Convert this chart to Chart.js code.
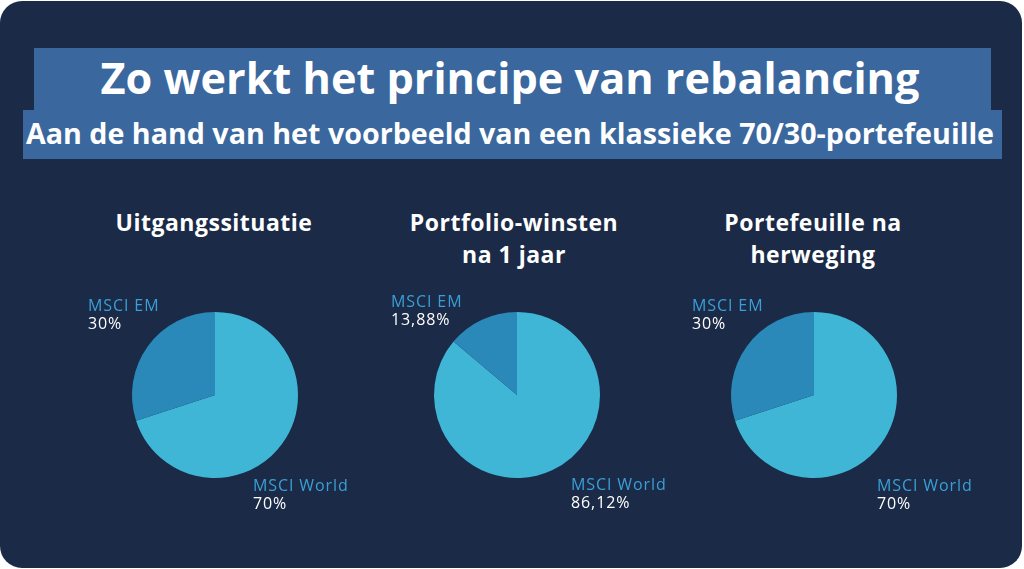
<!DOCTYPE html>
<html>
<head>
<meta charset="utf-8">
<script src="https://cdn.jsdelivr.net/npm/chart.js@4.4.1/dist/chart.umd.min.js"></script>
<style>
  html, body { margin: 0; padding: 0; background: #ffffff; }
  body { width: 1024px; height: 569px; position: relative; overflow: hidden; font-family: "Open Sans", sans-serif; }
  .card { position: absolute; left: 0; top: 1px; width: 1022px; height: 567px; background: #1b2a47; border-radius: 22px; }
  .band { position: absolute; background: #3a679d; }
  .txt { position: absolute; color: #ffffff; font-weight: 700; white-space: nowrap; text-align: center; }
  .head { position: absolute; color: #ffffff; font-weight: 700; font-size: 23px; letter-spacing: 0.5px; line-height: 32px; text-align: center; width: 300px; }
  canvas { position: absolute; }
</style>
</head>
<body>
<div class="card"></div>
<div class="band" style="left:34px;top:48px;width:957px;height:62px"></div>
<div class="band" style="left:23px;top:110px;width:979px;height:49px"></div>
<div class="txt" id="title" style="left:0;width:1020px;top:55px;font-size:37px;line-height:46px">Zo werkt het principe van rebalancing</div>
<div class="txt" id="subtitle" style="left:0;width:1020px;top:117px;font-size:24px;line-height:32px">Aan de hand van het voorbeeld van een klassieke 70/30-portefeuille</div>

<div class="head" style="left:64px;top:206px">Uitgangssituatie</div>
<div class="head" style="left:364px;top:206px">Portfolio-winsten<br>na 1 jaar</div>
<div class="head" style="left:663px;top:206px">Portefeuille na<br>herweging</div>

<canvas id="c0" width="360" height="300"></canvas>
<canvas id="c1" width="360" height="300"></canvas>
<canvas id="c2" width="360" height="300"></canvas>

<script>
// data
const categories = ['MSCI World', 'MSCI EM'];
const start = [70, 30];
const afterYear = [86.12, 13.88];
const rebalanced = [70, 30];
const valueLabels = [
  ['70%', '30%'],
  ['86,12%', '13,88%'],
  ['70%', '30%']
];

const colors = ['#40b6d6', '#2b89b9'];
const centers = [215, 517, 814];
// label offsets from the pie centre: [world, em]
const labelPos = [
  [[38, 91], [-127, -89]],
  [[54, 90], [-126, -93]],
  [[63, 91], [-122, -89]]
];

// fit title texts to the widths in the picture
function fitWidth(id, target) {
  const el = document.getElementById(id);
  const span = document.createElement('span');
  span.textContent = el.textContent;
  el.textContent = '';
  el.appendChild(span);
  const fs = parseFloat(getComputedStyle(el).fontSize);
  el.style.fontSize = (fs * target / span.offsetWidth) + 'px';
}
fitWidth('title', 819);
fitWidth('subtitle', 969);

const sideLabels = {
  id: 'sideLabels',
  afterDraw(chart, args, opts) {
    const ctx = chart.ctx;
    const arc = chart.getDatasetMeta(0).data[0];
    const cx = arc.x, cy = arc.y;
    ctx.save();
    ctx.textBaseline = 'middle';
    ctx.textAlign = 'left';
    ctx.letterSpacing = '0.9px';
    chart.data.labels.forEach((name, i) => {
      const p = opts.pos[i];
      ctx.font = '500 16px "Open Sans", sans-serif';
      ctx.fillStyle = '#3a9fd6';
      ctx.fillText(name, cx + p[0], cy + p[1]);
      ctx.fillStyle = '#ffffff';
      ctx.fillText(opts.values[i], cx + p[0], cy + p[1] + 18);
    });
    ctx.restore();
  }
};

[start, afterYear, rebalanced].forEach((vals, k) => {
  const cv = document.getElementById('c' + k);
  cv.style.left = (centers[k] - 180) + 'px';
  cv.style.top = (395 - 150) + 'px';
  new Chart(cv, {
    type: 'pie',
    data: {
      labels: categories,
      datasets: [{ data: vals, backgroundColor: colors, borderWidth: 0 }]
    },
    options: {
      responsive: false,
      animation: false,
      layout: { padding: { left: 97, right: 97, top: 67, bottom: 67 } },
      plugins: {
        legend: { display: false },
        tooltip: { enabled: false },
        sideLabels: { pos: labelPos[k], values: valueLabels[k] }
      }
    },
    plugins: [sideLabels]
  });
});
</script>
</body>
</html>
